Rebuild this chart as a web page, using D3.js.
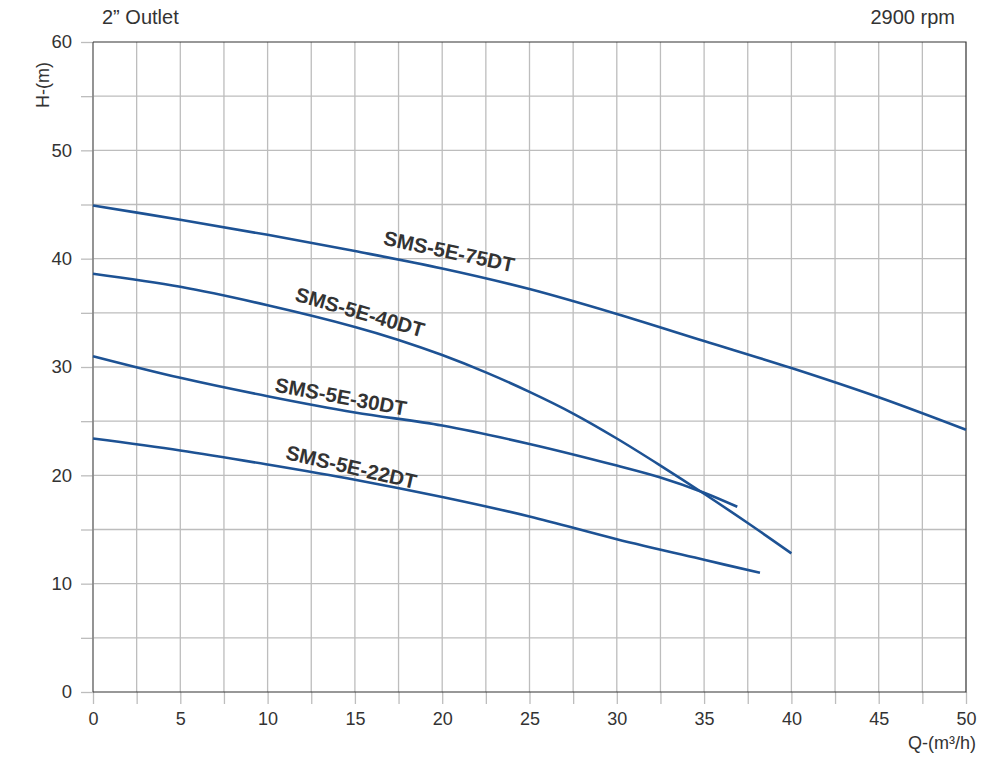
<!DOCTYPE html>
<html><head><meta charset="utf-8">
<script src="https://cdn.jsdelivr.net/npm/d3@7"></script>
<style>body{margin:0;background:#fff}svg{display:block}text{font-family:"Liberation Sans",Arial,sans-serif}</style>
</head><body><svg id="c" width="995" height="757"></svg>
<script>
const xTicks = [0,5,10,15,20,25,30,35,40,45,50];
const yTicks = [0,10,20,30,40,50,60];
const seriesNames = ["SMS-5E-75DT","SMS-5E-40DT","SMS-5E-30DT","SMS-5E-22DT"];
const q75 = [0,5,10,15,20,25,30,35,40,45,50];
const h75 = [44.9,43.6,42.2,40.7,39.1,37.2,34.9,32.4,29.9,27.2,24.2];
const q40 = [0,5,10,15,17.5,20,22.5,25,27.5,30,32.5,35,37.5,40];
const h40 = [38.6,37.4,35.7,33.7,32.5,31.1,29.5,27.7,25.7,23.4,20.9,18.3,15.6,12.8];
const q30 = [0,5,10,15,20,25,30,32.5,35,36.9];
const h30 = [31.0,29.0,27.3,25.8,24.6,22.9,20.9,19.8,18.4,17.1];
const q22 = [0,5,10,15,20,25,30,35,38.2];
const h22 = [23.4,22.3,21.0,19.6,18.0,16.2,14.1,12.2,11.0];
const labelPos = [[20.4,40.7,12],[15.3,35.1,16],[14.2,27.3,10.5],[14.8,20.8,13]];

const svg = d3.select("#c");
const x = d3.scaleLinear().domain([0,50]).range([93,966]);
const y = d3.scaleLinear().domain([0,60]).range([692,42]);
const grid = "#bdbdbd";
const ff = "Liberation Sans, Arial, sans-serif";
// grid
svg.append("g").selectAll("line").data(d3.range(2.5,50,2.5)).join("line")
  .attr("x1",d=>x(d)).attr("x2",d=>x(d)).attr("y1",y(60)).attr("y2",y(0))
  .attr("stroke",grid).attr("stroke-width",1.3);
svg.append("g").selectAll("line").data(d3.range(5,60,5)).join("line")
  .attr("y1",d=>y(d)).attr("y2",d=>y(d)).attr("x1",x(0)).attr("x2",x(50))
  .attr("stroke",grid).attr("stroke-width",1.3);
// axes
const xa = svg.append("g").attr("transform",`translate(0,${y(0)})`)
  .call(d3.axisBottom(x).tickValues(d3.range(0,50.1,2.5)).tickSize(12).tickPadding(8).tickFormat(d=>xTicks.includes(d)?d:""));
xa.select(".domain").remove();
xa.selectAll("line").attr("stroke",grid).attr("stroke-width",1.3);
xa.selectAll("text").attr("font-size",18).attr("fill","#333").attr("font-family",ff);
const ya = svg.append("g").attr("transform",`translate(${x(0)},0)`)
  .call(d3.axisLeft(y).tickValues(d3.range(0,60.1,5)).tickSize(12).tickPadding(9).tickFormat(d=>yTicks.includes(d)?d:""));
ya.select(".domain").remove();
ya.selectAll("line").attr("stroke",grid).attr("stroke-width",1.3);
ya.selectAll("text").attr("font-size",18.5).attr("fill","#333").attr("font-family",ff);
// frame
svg.append("line").attr("x1",x(0)).attr("x2",x(0)).attr("y1",y(60)).attr("y2",y(0)).attr("stroke","#888").attr("stroke-width",1.8);
svg.append("path").attr("d",`M${x(0)},${y(60)}H${x(50)}V${y(0)}H${x(0)}`).attr("fill","none").attr("stroke","#333").attr("stroke-width",1.2);
// curves
const line = d3.line().x(d=>x(d[0])).y(d=>y(d[1])).curve(d3.curveCatmullRom.alpha(0.5));
[[q75,h75],[q40,h40],[q30,h30],[q22,h22]].forEach(([qs,hs])=>{
  svg.append("path").datum(qs.map((q,i)=>[q,hs[i]])).attr("d",line)
    .attr("fill","none").attr("stroke","#1d5294").attr("stroke-width",2.6);
});
seriesNames.forEach((n,i)=>{
  const [qx,hy,r]=labelPos[i];
  svg.append("text").attr("transform",`translate(${x(qx)},${y(hy)}) rotate(${r})`)
    .attr("text-anchor","middle").attr("dominant-baseline","central")
    .attr("font-size",20.5).attr("font-weight","bold").attr("fill","#333").text(n);
});
// titles
svg.append("text").attr("x",102).attr("y",24).attr("font-size",20).attr("fill","#333").text("2\u201D Outlet");
svg.append("text").attr("x",955).attr("y",24).attr("text-anchor","end").attr("font-size",20).attr("fill","#333").text("2900 rpm");
svg.append("text").attr("transform","translate(49,85) rotate(-90)").attr("text-anchor","middle").attr("font-size",18).attr("fill","#333").text("H-(m)");
svg.append("text").attr("x",976).attr("y",749).attr("text-anchor","end").attr("font-size",18).attr("fill","#333").text("Q-(m³/h)");
</script></body></html>
